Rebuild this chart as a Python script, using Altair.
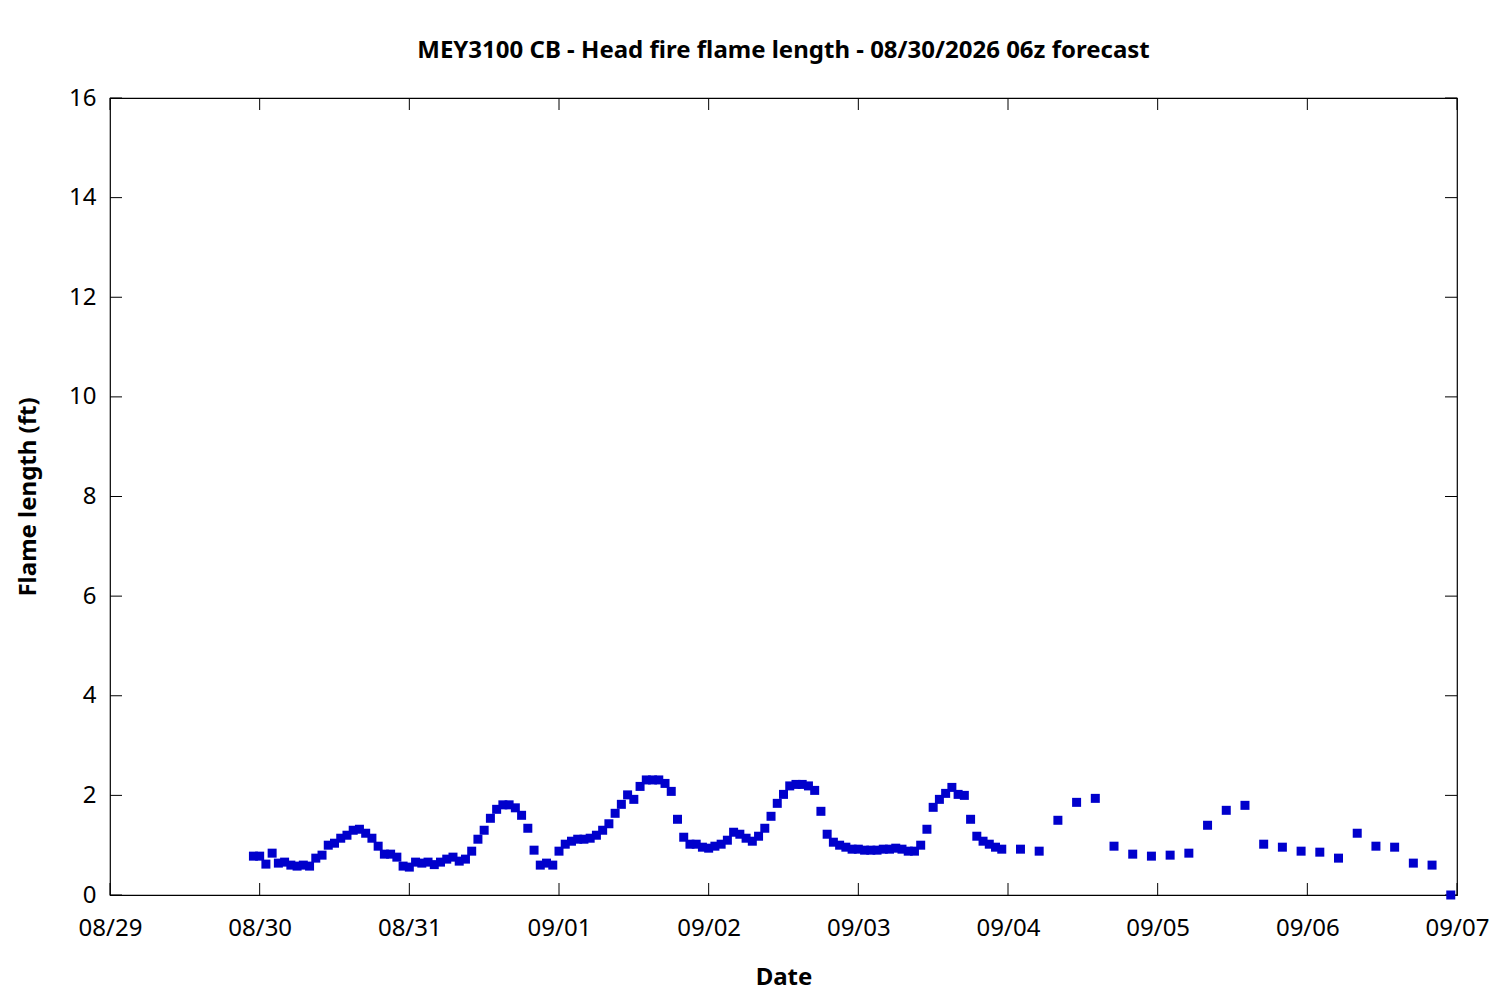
import altair as alt
import pandas as pd

# ---- data ----
hourly_start = "2026-08-29 23:00"
hourly_values = [
    0.78,
    # 08/30 00..23
    0.78, 0.62, 0.84, 0.64, 0.66, 0.60, 0.58, 0.60, 0.58, 0.74, 0.80, 1.00,
    1.04, 1.14, 1.20, 1.30, 1.32, 1.24, 1.14, 0.98, 0.82, 0.82, 0.76, 0.58,
    # 08/31
    0.56, 0.66, 0.64, 0.66, 0.61, 0.66, 0.72, 0.76, 0.68, 0.72, 0.88, 1.12,
    1.30, 1.54, 1.72, 1.81, 1.81, 1.75, 1.60, 1.34, 0.90, 0.60, 0.64, 0.60,
    # 09/01
    0.88, 1.02, 1.08, 1.12, 1.12, 1.14, 1.20, 1.30, 1.43, 1.64, 1.82, 2.01,
    1.92, 2.18, 2.31, 2.31, 2.31, 2.24, 2.08, 1.52, 1.16, 1.02, 1.02, 0.96,
    # 09/02
    0.94, 0.98, 1.02, 1.10, 1.26, 1.22, 1.14, 1.08, 1.18, 1.34, 1.58, 1.84,
    2.02, 2.19, 2.22, 2.22, 2.19, 2.10, 1.68, 1.22, 1.06, 1.00, 0.96, 0.92,
    # 09/03
    0.92, 0.90, 0.90, 0.90, 0.92, 0.92, 0.94, 0.92, 0.88, 0.88, 1.00, 1.32,
    1.76, 1.92, 2.04, 2.16, 2.02, 2.00, 1.52, 1.18, 1.08, 1.02, 0.96, 0.92,
]
three_hourly_start = "2026-09-04 02:00"
three_hourly_values = [
    0.92, 0.88, 1.50, 1.86, 1.94, 0.98, 0.82, 0.78,
    0.80, 0.84, 1.40, 1.70, 1.80, 1.02, 0.96, 0.88,
    0.86, 0.74, 1.24, 0.98, 0.96, 0.64, 0.60, 0.00,
]
x_tick_days = ["2026-08-29", "2026-08-30", "2026-08-31", "2026-09-01", "2026-09-02",
               "2026-09-03", "2026-09-04", "2026-09-05", "2026-09-06", "2026-09-07"]
y_tick_values = [0, 2, 4, 6, 8, 10, 12, 14, 16]

title_text = "MEY3100 CB - Head fire flame length - 08/30/2026 06z forecast"
x_title = "Date"
y_title = "Flame length (ft)"

# ---- tables ----
times = list(pd.date_range(hourly_start, periods=len(hourly_values), freq="h")) + \
        list(pd.date_range(three_hourly_start, periods=len(three_hourly_values), freq="3h"))
df = pd.DataFrame({"time": times, "flame": hourly_values + three_hourly_values})
df_xt = pd.DataFrame({"day": pd.to_datetime(x_tick_days)})
df_yt = pd.DataFrame({"v": y_tick_values})

W, H = 1347, 797
TICK = 12
FONT = "Noto Sans"
FS = 24

x_scale = alt.Scale(domain=[alt.DateTime(year=2026, month=8, date=29),
                            alt.DateTime(year=2026, month=9, date=7)], nice=False)
y_scale = alt.Scale(domain=[0, 16], nice=False)

x_axis = alt.Axis(values=[alt.DateTime(year=int(d[:4]), month=int(d[5:7]), date=int(d[8:])) for d in x_tick_days],
                  format="%m/%d", tickSize=0, domain=False, grid=False,
                  labelFlush=False, labelOverlap=False,
                  labelFontSize=FS, labelFont=FONT, labelColor="black", labelPadding=21,
                  title=x_title, titleFontSize=FS, titleFont=FONT, titleFontWeight="bold",
                  titleColor="black", titlePadding=25)
y_axis = alt.Axis(values=y_tick_values, tickSize=0, domain=False, grid=False,
                  labelFlush=False, labelOverlap=False,
                  labelFontSize=FS, labelFont=FONT, labelColor="black", labelPadding=14,
                  title=y_title, titleFontSize=FS, titleFont=FONT, titleFontWeight="bold",
                  titleColor="black", titlePadding=28)

points = alt.Chart(df).mark_square(size=81, color="#0000cc", opacity=1).encode(
    x=alt.X("time:T", scale=x_scale, axis=x_axis),
    y=alt.Y("flame:Q", scale=y_scale, axis=y_axis),
)

xt_bottom = alt.Chart(df_xt).mark_rule(color="black", strokeWidth=1).encode(
    x=alt.X("day:T"), y=alt.value(H), y2=alt.value(H - TICK))
xt_top = alt.Chart(df_xt).mark_rule(color="black", strokeWidth=1).encode(
    x=alt.X("day:T"), y=alt.value(0), y2=alt.value(TICK))
yt_left = alt.Chart(df_yt).mark_rule(color="black", strokeWidth=1).encode(
    y=alt.Y("v:Q"), x=alt.value(0), x2=alt.value(TICK))
yt_right = alt.Chart(df_yt).mark_rule(color="black", strokeWidth=1).encode(
    y=alt.Y("v:Q"), x=alt.value(W - TICK), x2=alt.value(W))

chart = alt.layer(xt_bottom, xt_top, yt_left, yt_right, points).properties(
    width=W, height=H,
    title=alt.TitleParams(title_text, font=FONT, fontSize=FS, fontWeight="bold",
                          color="black", anchor="middle", frame="group", offset=23),
    autosize=alt.AutoSizeParams(type="none"),
    padding={"left": 102, "top": 90, "right": 34, "bottom": 96},
).configure(background="white").configure_view(stroke="black", strokeWidth=1.2)

chart.save("out.html", embed_options={"renderer": "svg", "actions": False})
